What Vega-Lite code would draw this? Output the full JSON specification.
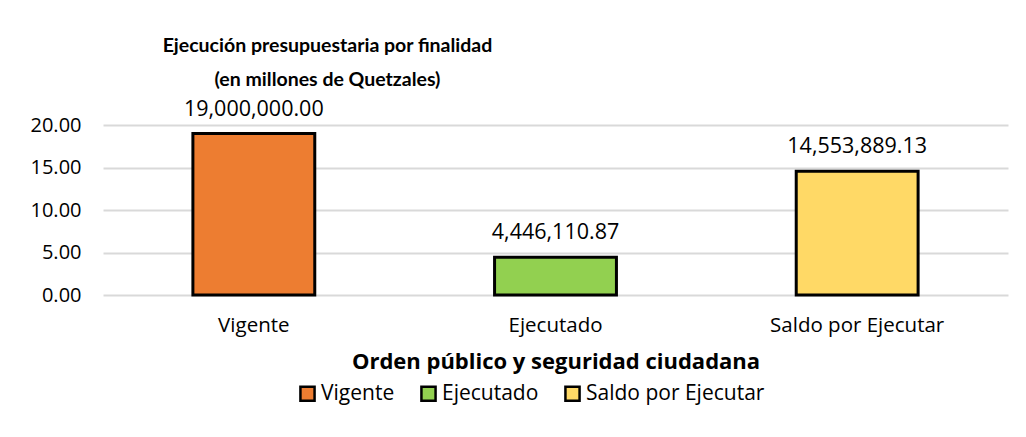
{
  "$schema": "https://vega.github.io/schema/vega-lite/v6.json",
  "width": 905,
  "height": 170,
  "padding": {"left": 30, "top": 36, "right": 18, "bottom": 10},
  "background": "white",
  "config": {
    "font": "Open Sans",
    "view": {"stroke": null},
    "axis": {"labelFont": "Open Sans", "titleFont": "Open Sans", "labelColor": "#000000", "titleColor": "#000000"}
  },
  "title": {
    "text": ["Ejecución presupuestaria por finalidad", "(en millones de Quetzales)"],
    "font": "Lato",
    "fontSize": 19.5,
    "fontWeight": "bold",
    "color": "#000000",
    "anchor": "middle",
    "dx": -228,
    "offset": 8,
    "lineHeight": 34
  },
  "data": {
    "values": [
      {"categoria": "Vigente", "millones": 19.0, "monto": 19000000.00},
      {"categoria": "Ejecutado", "millones": 4.44611087, "monto": 4446110.87},
      {"categoria": "Saldo por Ejecutar", "millones": 14.55388913, "monto": 14553889.13}
    ]
  },
  "encoding": {
    "x": {
      "field": "categoria",
      "type": "nominal",
      "sort": ["Vigente", "Ejecutado", "Saldo por Ejecutar"],
      "scale": {"paddingInner": 0.596, "paddingOuter": 0.298},
      "axis": {
        "title": "Orden público y seguridad ciudadana",
        "titleFontSize": 22,
        "titleFontWeight": "bold",
        "titlePadding": 16,
        "labelAngle": 0,
        "labelFontSize": 20.5,
        "labelPadding": 20,
        "ticks": false,
        "domain": false
      }
    },
    "y": {
      "field": "millones",
      "type": "quantitative",
      "scale": {"domain": [0, 20]},
      "axis": {
        "title": null,
        "values": [0, 5, 10, 15, 20],
        "format": ".2f",
        "labelFontSize": 20,
        "labelPadding": 22,
        "ticks": false,
        "domain": false,
        "gridColor": "#d9d9d9",
        "gridWidth": 2
      }
    }
  },
  "layer": [
    {
      "mark": {"type": "bar", "stroke": "#000000", "strokeWidth": 3},
      "encoding": {
        "color": {
          "field": "categoria",
          "type": "nominal",
          "sort": ["Vigente", "Ejecutado", "Saldo por Ejecutar"],
          "scale": {"domain": ["Vigente", "Ejecutado", "Saldo por Ejecutar"], "range": ["#ed7d31", "#92d050", "#ffd966"]},
          "legend": {
            "title": null,
            "orient": "none",
            "legendX": 194,
            "legendY": 258,
            "direction": "horizontal",
            "symbolType": "square",
            "symbolSize": 200,
            "symbolStrokeColor": "#000000",
            "symbolStrokeWidth": 2.5,
            "labelFontSize": 21,
            "labelColor": "#000000",
            "labelFont": "Open Sans",
            "labelOffset": 3,
            "labelLimit": 400,
            "columnPadding": 21
          }
        }
      }
    },
    {
      "mark": {"type": "text", "fontSize": 21.5, "dy": -13, "baseline": "bottom", "color": "#000000", "font": "Open Sans"},
      "encoding": {
        "text": {"field": "monto", "type": "quantitative", "format": ",.2f"}
      }
    }
  ]
}
